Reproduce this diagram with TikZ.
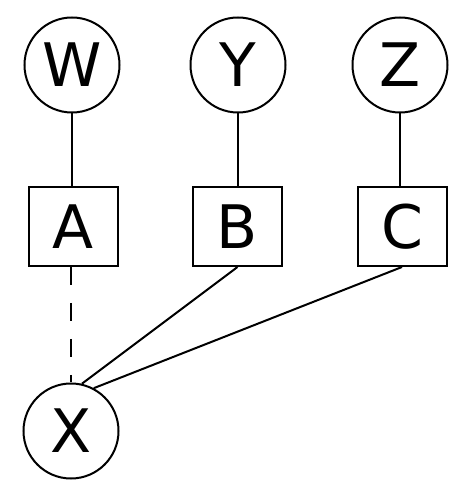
\documentclass[tikz,border=0pt]{standalone}
\usepackage{fontspec}
\setmainfont{DejaVu Sans}
\begin{document}
\begin{tikzpicture}[x=1pt,y=1pt,
  every node/.style={font=\fontsize{60}{72}\selectfont, inner sep=0pt},
  var/.style={circle, draw, line width=2pt, minimum size=95pt},
  fac/.style={rectangle, draw, line width=2pt, minimum width=89pt, minimum height=79pt},
  edge/.style={line width=2pt},
  dashededge/.style={line width=2pt, dash pattern=on 18pt off 18pt, dash phase=0pt}]
\useasboundingbox (0,0) rectangle (468,489);
\node[var] (W) at (72,424) {W};
\node[var] (Y) at (238,424) {Y};
\node[var] (Z) at (400,424) {Z};
\node[fac] (A) at (73,262.5) {A};
\node[fac] (B) at (237.5,262.5) {B};
\node[fac] (C) at (402,262.5) {C};
\node[var] (X) at (71,58) {X};
\draw[edge] (W.south) -- (W.south |- A.north);
\draw[edge] (Y.south) -- (Y.south |- B.north);
\draw[edge] (Z.south) -- (Z.south |- C.north);
\draw[dashededge] (X.north |- A.south) -- (X.north);
\draw[edge] (B.south) -- (X.77);
\draw[edge] (C.south) -- (X.62);
\end{tikzpicture}
\end{document}
